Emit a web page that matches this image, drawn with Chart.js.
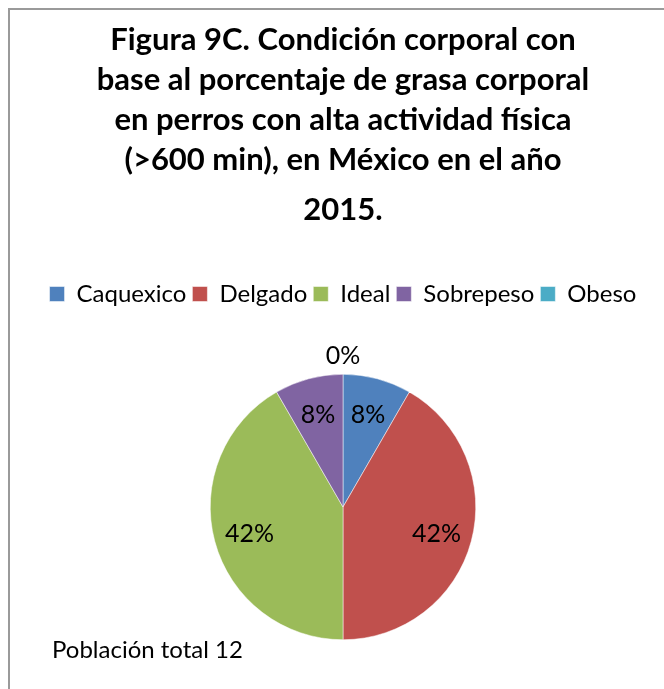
<!DOCTYPE html>
<html><head><meta charset="utf-8">
<script src="https://cdn.jsdelivr.net/npm/chart.js@4"></script>
<style>html,body{margin:0;padding:0;background:#fff}#wrap{width:664px;height:689px;position:relative}</style>
</head><body><div id="wrap"><canvas id="c" width="664" height="689"></canvas></div>
<script>
const categories = ['Caquexico','Delgado','Ideal','Sobrepeso','Obeso'];
const counts = [1, 5, 5, 1, 0];
const colors = ['#4F81BD','#C0504D','#9BBB59','#8064A2','#4BACC6'];
const titleLines = ['Figura 9C. Condición corporal con','base al porcentaje de grasa corporal','en perros con alta actividad física','(>600 min), en México en el año'];
const subtitleText = '2015.';
const footnote = 'Población total 12';

const FONT = 'Lato, "Noto Sans", sans-serif';

const legendHeight = {
  id: 'legendHeight',
  beforeInit(chart) {
    const lg = chart.legend;
    const orig = lg.fit;
    lg.fit = function () { orig.call(this); this.height = 98; };
  }
};

const frameAndNotes = {
  id: 'frameAndNotes',
  beforeDraw(chart) {
    const ctx = chart.ctx;
    ctx.save();
    ctx.strokeStyle = '#9a9a9a';
    ctx.lineWidth = 2;
    ctx.beginPath();
    ctx.moveTo(9, 689); ctx.lineTo(9, 9); ctx.lineTo(664, 9);
    ctx.stroke();
    ctx.restore();
  },
  afterDraw(chart) {
    const ctx = chart.ctx;
    ctx.save();
    ctx.fillStyle = '#000';
    ctx.font = '24px ' + FONT;
    ctx.textAlign = 'left';
    ctx.textBaseline = 'middle';
    ctx.fillText(footnote, 52, 650);
    // data labels
    const meta = chart.getDatasetMeta(0);
    const data = chart.data.datasets[0].data;
    const total = data.reduce((a, b) => a + b, 0);
    ctx.font = '25px ' + FONT;
    ctx.textAlign = 'center';
    meta.data.forEach((arc, i) => {
      const p = arc.getProps(['x','y','startAngle','endAngle','outerRadius'], true);
      const mid = (p.startAngle + p.endAngle) / 2;
      const r = data[i] === 0 ? p.outerRadius + 20 : p.outerRadius * 0.73;
      const pct = Math.round(data[i] / total * 100) + '%';
      ctx.fillText(pct, p.x + Math.cos(mid) * r, p.y + Math.sin(mid) * r + 2);
    });
    ctx.restore();
  }
};

new Chart(document.getElementById('c'), {
  type: 'pie',
  data: {
    labels: categories,
    datasets: [{ data: counts, backgroundColor: colors, borderColor: '#ffffff', borderWidth: 0.5 }]
  },
  options: {
    responsive: false,
    animation: false,
    devicePixelRatio: 1,
    layout: { padding: { top: 0, left: 22, right: 0, bottom: 49 } },
    plugins: {
      title: {
        display: true, text: titleLines, color: '#000',
        font: { family: FONT, size: 31, weight: 'bold', lineHeight: '40px' },
        padding: { top: 20, bottom: 0 }
      },
      subtitle: {
        display: true, text: subtitleText, color: '#000',
        font: { family: FONT, size: 31, weight: 'bold', lineHeight: '40px' },
        padding: { top: 10, bottom: 46 }
      },
      legend: {
        display: true, position: 'top',
        labels: { boxWidth: 15, boxHeight: 15, padding: 6, color: '#000', font: { family: FONT, size: 24 } }
      },
      tooltip: { enabled: false }
    }
  },
  plugins: [legendHeight, frameAndNotes]
});
</script></body></html>
